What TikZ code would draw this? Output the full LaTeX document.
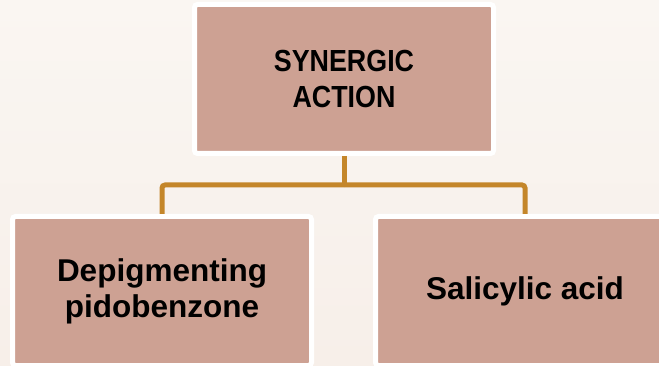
\documentclass[tikz,border=0pt]{standalone}
\usepackage{fontspec}
\setmainfont{Liberation Sans}
\newfontfamily\condfont[FakeStretch=0.88]{Liberation Sans}
\usetikzlibrary{positioning,calc}
\definecolor{boxfill}{RGB}{205,161,147}
\definecolor{linkcol}{RGB}{196,134,42}
\definecolor{bgtop}{RGB}{250,246,242}
\definecolor{bgbot}{RGB}{247,239,233}

\begin{document}
\begin{tikzpicture}[
  x=1pt, y=1pt, line width=5pt,
  topbox/.style={rectangle, minimum width=299pt, minimum height=149pt, draw=white, fill=boxfill, rounded corners=3pt, align=center, font=\condfont\fontsize{30.5}{36}\selectfont\bfseries},
  leafbox/.style={rectangle, minimum width=299pt, minimum height=149pt, draw=white, fill=boxfill, rounded corners=3pt, align=center, font=\fontsize{31.5}{36}\selectfont\bfseries},
  link/.style={draw=linkcol, line width=5pt, rounded corners=3pt}
]

% background
\shade[top color=bgtop, bottom color=bgbot, draw=none] (0,0) rectangle (659,-366);
\useasboundingbox (0,0) rectangle (659,-366);

\node[topbox] (synergy) at (344,-79) {SYNERGIC\\ACTION};
\node[leafbox] (depig) at (162,-291) {Depigmenting\\pidobenzone};
\node[leafbox] (salic) at (525,-291) {Salicylic acid};

\coordinate (fork) at (344,-185);

\draw[link] (synergy.south) -- (fork);
\draw[link] (fork) -| (depig.north);
\draw[link] (fork) -| (salic.north);

\end{tikzpicture}
\end{document}
